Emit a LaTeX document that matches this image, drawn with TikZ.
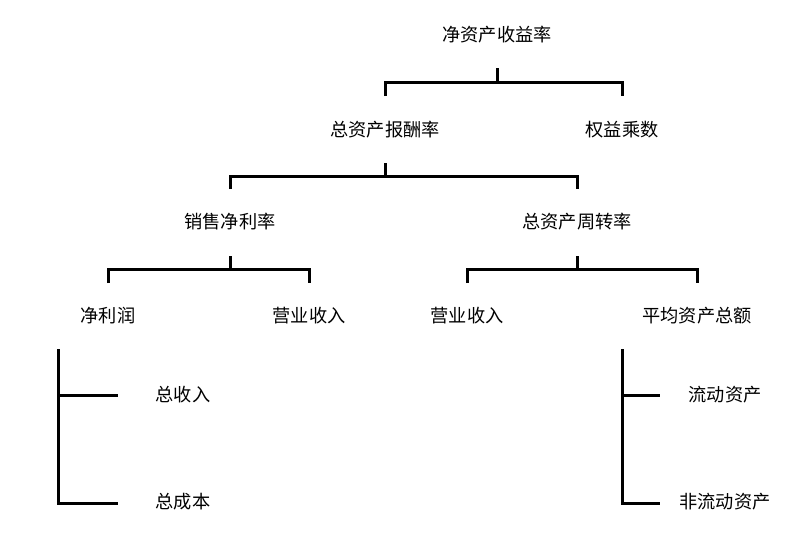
\documentclass[tikz,border=0pt]{standalone}
\usepackage{fontspec}
\newfontfamily\cjk{Noto Sans CJK SC}
\begin{document}
\begin{tikzpicture}[x=1pt,y=-1pt,
  lbl/.style={font=\cjk\fontsize{18.2}{20}\selectfont,inner sep=0pt},
  ln/.style={line width=3pt}]
\useasboundingbox (0,0) rectangle (807,538);
\node[lbl] (roe) at (497,35) {净资产收益率};
\node[lbl] (roa) at (385,130) {总资产报酬率};
\node[lbl] (em) at (622,130) {权益乘数};
\node[lbl] (npm) at (230,222) {销售净利率};
\node[lbl] (tat) at (577,222) {总资产周转率};
\node[lbl] (np) at (108,316) {净利润};
\node[lbl] (rev1) at (309,316) {营业收入};
\node[lbl] (rev2) at (467,316) {营业收入};
\node[lbl] (ta) at (697,316) {平均资产总额};
\node[lbl] (tr) at (183,395) {总收入};
\node[lbl] (tc) at (183,502) {总成本};
\node[lbl] (ca) at (725,395) {流动资产};
\node[lbl] (nca) at (725,502) {非流动资产};
% bracket 1
\draw[ln] (497,68) -- (497,82);
\draw[ln] (385,96) -- (385,82) -- (622,82) -- (622,96);
% bracket 2
\draw[ln] (385,163) -- (385,176);
\draw[ln] (230,189) -- (230,176) -- (577,176) -- (577,189);
% bracket 3
\draw[ln] (230,256) -- (230,269);
\draw[ln] (108,283) -- (108,269) -- (309,269) -- (309,283);
% bracket 4
\draw[ln] (577,256) -- (577,269);
\draw[ln] (467,283) -- (467,269) -- (697,269) -- (697,283);
% left tree
\draw[ln] (58,349) -- (58,503) -- (118,503);
\draw[ln] (58,395) -- (118,395);
% right tree
\draw[ln] (622,349) -- (622,503) -- (660,503);
\draw[ln] (622,395) -- (660,395);
\end{tikzpicture}
\end{document}
